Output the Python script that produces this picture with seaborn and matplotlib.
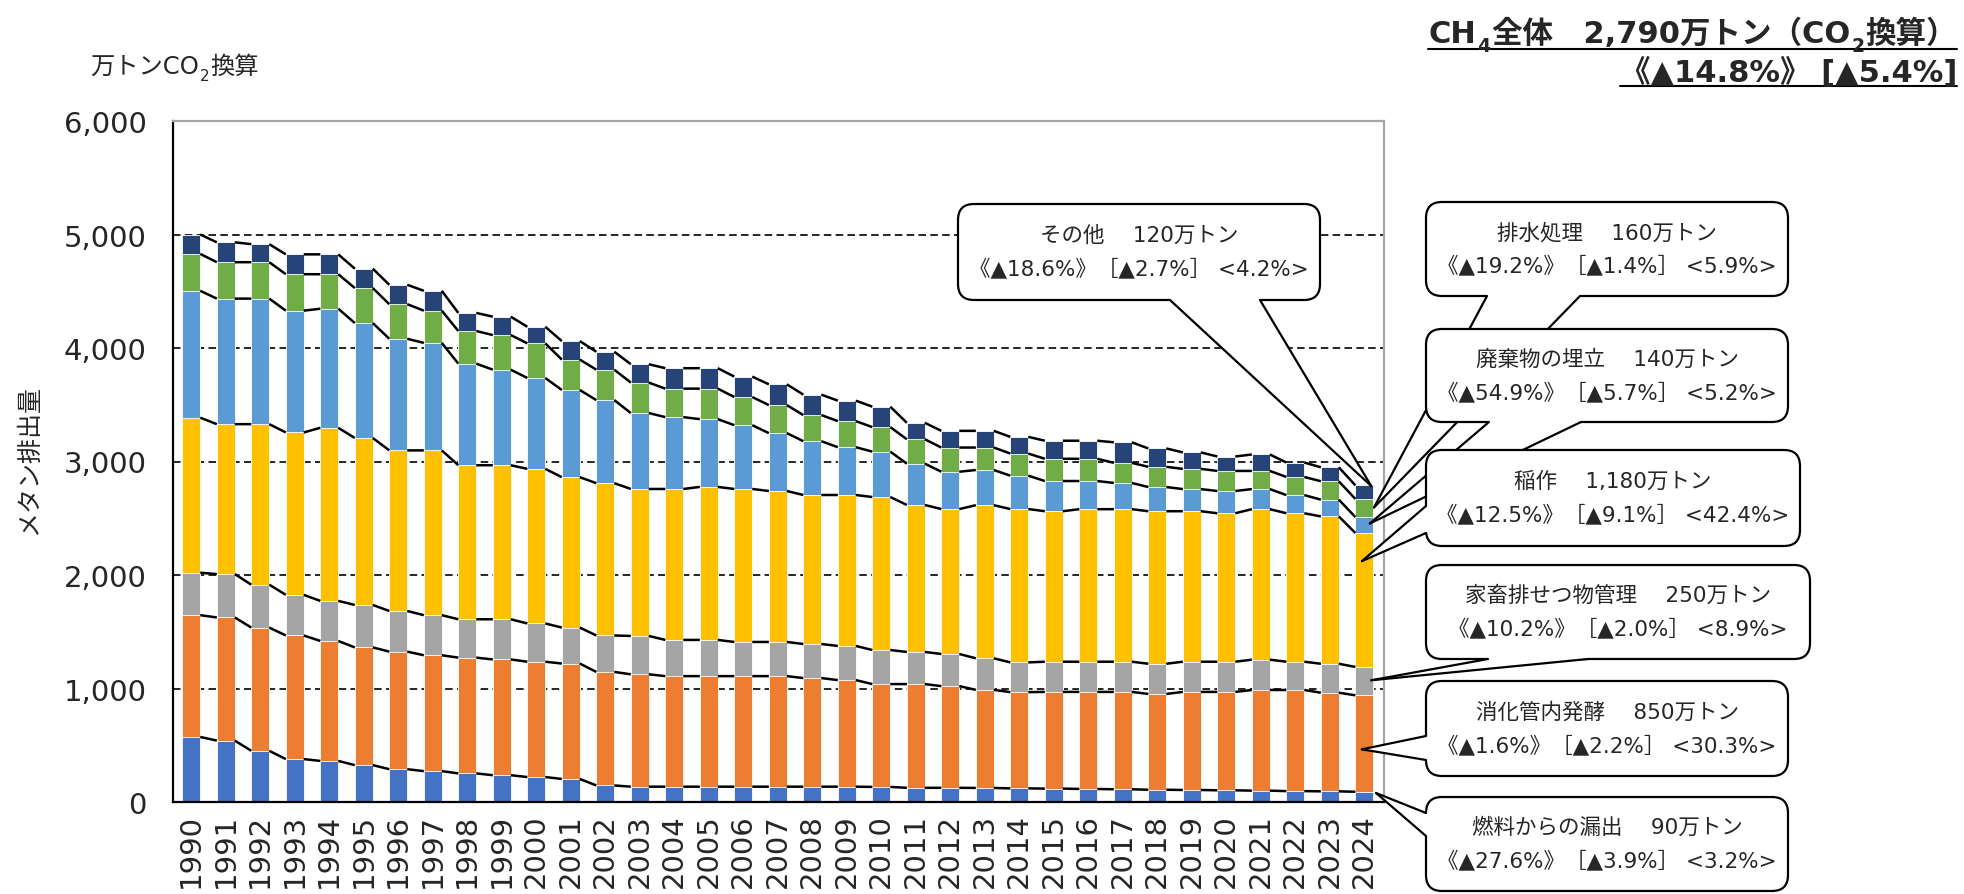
import numpy as np
import pandas as pd
import matplotlib
matplotlib.use("Agg")
import matplotlib.pyplot as plt
import seaborn as sns
from matplotlib.patches import FancyBboxPatch, Polygon
from matplotlib.lines import Line2D

# ---------------------------------------------------------------- data
years = list(range(1990, 2025))

# CH4 emissions by source, 万トンCO2換算
fuel_leak = [573, 541, 451, 378, 362, 325, 289, 272, 252, 236, 220, 203, 146, 135,
             135, 135, 135, 135, 135, 135, 133, 125, 125, 124, 120, 118, 115, 112,
             108, 106, 103, 100, 96, 94, 90]
enteric = [1073, 1085, 1086, 1089, 1057, 1037, 1036, 1021, 1020, 1020, 1016, 1017,
           1000, 990, 974, 974, 974, 974, 957, 939, 906, 914, 896, 864, 848, 852,
           855, 858, 844, 864, 867, 887, 891, 869, 850]
manure = [374, 382, 378, 358, 353, 374, 358, 353, 338, 354, 337, 317, 321, 338, 319,
          319, 301, 301, 300, 301, 300, 283, 283, 278, 262, 266, 266, 266, 266, 266,
          266, 267, 249, 255, 250]
rice = [1366, 1321, 1414, 1431, 1525, 1471, 1415, 1452, 1357, 1357, 1362, 1325, 1342,
        1295, 1330, 1348, 1348, 1330, 1313, 1330, 1348, 1295, 1277, 1349, 1351, 1326,
        1344, 1344, 1344, 1326, 1308, 1326, 1308, 1298, 1180]
landfill = [1118, 1106, 1106, 1073, 1049, 1013, 983, 947, 895, 842, 801, 768, 732, 669,
            633, 597, 562, 510, 474, 421, 400, 364, 329, 310, 294, 266, 248, 231, 213,
            195, 196, 177, 160, 148, 140]
wastewater = [325, 321, 321, 321, 304, 308, 305, 284, 288, 305, 305, 268, 268, 268, 251,
              269, 248, 247, 230, 230, 216, 215, 213, 198, 195, 196, 196, 177, 178, 178,
              177, 160, 160, 162, 160]
other = [171, 175, 159, 175, 175, 171, 171, 175, 159, 162, 146, 163, 158, 162, 180, 180,
         180, 183, 180, 180, 180, 145, 147, 147, 147, 159, 159, 181, 162, 145, 127, 145,
         127, 123, 120]

series_names = ["燃料からの漏出", "消化管内発酵", "家畜排せつ物管理", "稲作",
                "廃棄物の埋立", "排水処理", "その他"]
series_values = [fuel_leak, enteric, manure, rice, landfill, wastewater, other]
series_colors = ["#4472C4", "#ED7D31", "#A5A5A5", "#FFC000", "#5B9BD5", "#70AD47", "#264478"]

# change vs FY2013, change vs previous year, share of total (latest year)
vs_2013 = ["▲27.6%", "▲1.6%", "▲10.2%", "▲12.5%", "▲54.9%", "▲19.2%", "▲18.6%"]
vs_prev = ["▲3.9%", "▲2.2%", "▲2.0%", "▲9.1%", "▲5.7%", "▲1.4%", "▲2.7%"]
shares = ["3.2%", "30.3%", "8.9%", "42.4%", "5.2%", "5.9%", "4.2%"]

total_vs_2013 = "▲14.8%"
total_vs_prev = "▲5.4%"

ytick_values = [0, 1000, 2000, 3000, 4000, 5000, 6000]

# ---------------------------------------------------------------- setup
sns.set_style("white")
FAM = ["DejaVu Sans", "Noto Sans CJK JP"]
plt.rcParams["font.family"] = FAM

W, H, DPI = 1964, 895, 100
fig = plt.figure(figsize=(W / DPI, H / DPI), dpi=DPI)
fig.patch.set_facecolor("white")
AX_L, AX_R, AX_T, AX_B = 173, 1384, 122, 803
ax = fig.add_axes([AX_L / W, 1 - AX_B / H, (AX_R - AX_L) / W, (AX_B - AX_T) / H])
ax.set_facecolor("white")

BAR_W = 0.52
cum = np.cumsum(np.array(series_values, dtype=float), axis=0)
df = pd.DataFrame({"year": [str(y) for y in years]})
for k in range(len(series_values)):
    df[f"cum{k}"] = cum[k]

# stacked bars: draw cumulative totals from the top layer downwards
for k in reversed(range(len(series_values))):
    sns.barplot(data=df, x="year", y=f"cum{k}", color=series_colors[k], saturation=1,
                width=BAR_W, errorbar=None, edgecolor="white", linewidth=0.6,
                ax=ax, zorder=2)

# series lines joining each layer boundary between neighbouring bars
n = len(years)
for k in range(len(series_values)):
    xs, ys = [], []
    for i in range(n - 1):
        xs += [i + BAR_W / 2, i + 1 - BAR_W / 2, np.nan]
        ys += [cum[k][i], cum[k][i + 1], np.nan]
    ax.plot(xs, ys, color="black", lw=1.8, zorder=3, solid_capstyle="butt")

ax.set_xlim(-0.53, n - 1 + 0.57)
ax.set_ylim(0, 6000)
for v in ytick_values[1:-1]:
    ax.axhline(v, color="black", lw=1.2, ls=(0, (4.5, 2.6)), zorder=1)

ax.set_yticks(ytick_values)
ax.set_yticklabels([f"{v:,}" for v in ytick_values], fontsize=21, family="DejaVu Sans")
ax.set_xticks(range(n))
ax.set_xticklabels([str(y) for y in years], rotation=90, fontsize=21, family="DejaVu Sans")
ax.set_xticks(np.arange(-0.5, n, 1.0), minor=True)
ax.tick_params(axis="x", which="major", length=0, pad=8)
ax.tick_params(axis="x", which="minor", direction="in", length=6.5, width=1.5, color="black")
ax.tick_params(axis="y", which="major", direction="in", length=6, width=1.5, color="black", pad=19)
ax.set_xlabel("")
ax.set_ylabel("")

for side in ["left", "bottom"]:
    ax.spines[side].set_color("black")
    ax.spines[side].set_linewidth(1.6)
for side in ["top", "right"]:
    ax.spines[side].set_color("#A6A6A6")
    ax.spines[side].set_linewidth(1.6)
    ax.spines[side].set_visible(True)


# ---------------------------------------------------------------- text helpers
def fpos(x, y):
    return x / W, 1 - y / H


def rich_line(pieces, x, baseline, align, size, weight="normal"):
    renderer = fig.canvas.get_renderer()
    arts = []
    for s, sub in pieces:
        t = fig.text(0, 0, s, fontsize=size * (0.62 if sub else 1), fontweight=weight,
                     family=FAM, va="baseline", ha="left")
        arts.append((t, sub))
    widths = [t.get_window_extent(renderer).width for t, _ in arts]
    gap = size * 0.04 * DPI / 72
    total = sum(widths) + gap * (len(arts) - 1)
    x0 = x - total if align == "right" else x
    drop = size * 0.28 * DPI / 72
    cur = x0
    for (t, sub), wd in zip(arts, widths):
        t.set_position(fpos(cur, baseline + (drop if sub else 0)))
        cur += wd + gap
    return x0, x0 + total


def underline(x0, x1, y):
    fig.add_artist(Line2D([x0 / W, x1 / W], [1 - y / H, 1 - y / H],
                          transform=fig.transFigure, color="black", lw=1.5))


# unit label above the y axis
rich_line([("万トンCO", False), ("2", True), ("換算", False)], 90, 74, "left", 17.5)

# axis title
fig.text(*fpos(29, 460), "メタン排出量", rotation=90, ha="center", va="center",
         fontsize=18, family=FAM)

# headline, top right
total_latest = int(round(cum[-1][-1], -1))
x0, x1 = rich_line([("CH", False), ("4", True),
                    (f"全体　{total_latest:,}万トン（CO", False), ("2", True), ("換算）", False)],
                   1957, 43, "right", 22, weight="bold")
underline(x0, x1, 50)
x0, x1 = rich_line([(f"《{total_vs_2013}》 [{total_vs_prev}]", False)], 1957, 81, "right",
                   22, weight="bold")
underline(x0, x1, 87)

# ---------------------------------------------------------------- callouts
TR = fig.dpi_scale_trans


def P(x, y):
    return x / DPI, (H - y) / DPI


def data_px(xv, yv):
    dx, dy = ax.transData.transform((xv, yv))
    return dx, H - dy


# (series index, box [x0, y0, x1, y1], tail side, tail base, apex x offset, apex fraction)
callouts = [
    (6, (958, 205, 1320, 301), "bottom", (1170, 1260), 0.20, 0.95),
    (5, (1426, 203, 1788, 297), "bottom", (1487, 1580), 0.28, 0.53),
    (4, (1426, 330, 1788, 423), "bottom", (1489, 1581), 0.16, 0.60),
    (3, (1426, 451, 1800, 547), "left", (507, 534), -0.07, 0.79),
    (2, (1426, 566, 1810, 660), "bottom", (1488, 1588), 0.20, 0.53),
    (1, (1426, 682, 1788, 777), "left", (737, 761), -0.07, 0.44),
    (0, (1426, 798, 1788, 892), "left", (814, 837), 0.34, 0.88),
]

last = n - 1
for order, (k, (bx0, by0, bx1, by1), side, base, xoff, frac) in enumerate(callouts):
    z = 10 + order
    lo = cum[k - 1][last] if k > 0 else 0.0
    hi = cum[k][last]
    apex = data_px(last + xoff, lo + frac * (hi - lo))

    box = FancyBboxPatch(P(bx0, by1), (bx1 - bx0) / DPI, (by1 - by0) / DPI,
                         boxstyle="round,pad=0,rounding_size=0.16", transform=TR,
                         fc="white", ec="black", lw=1.6, zorder=z)
    fig.add_artist(box)
    if side == "bottom":
        b1, b2 = (base[0], by1), (base[1], by1)
        i1, i2 = (base[0], by1 - 4), (base[1], by1 - 4)
    else:
        b1, b2 = (bx0, base[0]), (bx0, base[1])
        i1, i2 = (bx0 + 4, base[0]), (bx0 + 4, base[1])
    fig.add_artist(Polygon([P(*i1), P(*b1), P(*apex), P(*b2), P(*i2)], closed=True,
                           transform=TR, fc="white", ec="none", zorder=z + 0.1))
    for b in (b1, b2):
        pa, pb = P(*b), P(*apex)
        fig.add_artist(Line2D([pa[0], pb[0]], [pa[1], pb[1]], transform=TR,
                              color="black", lw=1.6, zorder=z + 0.2))

    value = int(series_values[k][last])
    line1 = f"{series_names[k]}　 {value:,}万トン"
    line2 = f"《{vs_2013[k]}》［{vs_prev[k]}］ <{shares[k]}>"
    cx = (bx0 + bx1) / 2
    cy = (by0 + by1) / 2
    fig.text(*fpos(cx, cy - 17), line1, ha="center", va="center", fontsize=15.5,
             family=FAM, zorder=z + 0.3)
    fig.text(*fpos(cx, cy + 16), line2, ha="center", va="center", fontsize=15.5,
             family=FAM, zorder=z + 0.3)

fig.savefig("out.png", dpi=DPI, facecolor="white")
